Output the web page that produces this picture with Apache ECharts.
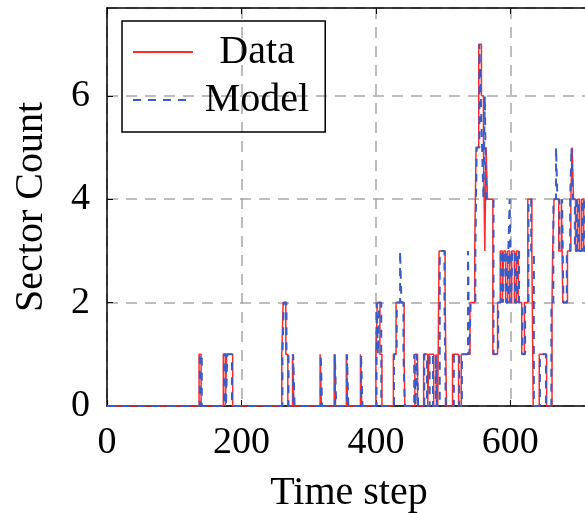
<!DOCTYPE html>
<html lang="en">
<head>
    <meta charset="UTF-8">
    <title>Sector Count</title>
    <script type="text/javascript" src="https://cdn.jsdelivr.net/npm/echarts@6/dist/echarts.min.js"></script>
</head>
<body style="margin:0;">
<div id="myChart" style="width:585px;height:513px;"></div>
<script type="text/javascript">
    // change points: value holds from t[i] until t[i+1]
    var dataT = [0, 137, 140, 173, 176, 178, 187, 260, 262, 266, 269, 276, 278, 317, 319, 338, 340, 356, 358, 377, 379,
        400, 402, 406, 409, 426, 430, 442, 443, 458, 462, 471, 477, 479, 486, 490, 492, 494, 503, 505, 514, 523, 527,
        540, 547, 549, 553, 557, 560, 561, 562, 564, 566, 574, 581, 585, 588, 590, 593, 596, 599, 602, 606, 609, 612,
        617, 621, 626, 632, 634, 643, 654, 662, 663, 665, 672, 676, 678, 685, 690, 692, 694, 697, 700, 703, 706, 709, 712, 720];
    var dataV = [0, 1, 0, 1, 0, 1, 0, 1, 2, 1, 0, 1, 0, 1, 0, 1, 0, 1, 0, 1, 0,
        1, 2, 1, 0, 1, 2, 1, 0, 1, 0, 1, 0, 1, 0, 1, 0, 3, 2, 0, 1, 0, 1,
        2, 3, 5, 7, 6, 5, 4, 3, 5, 4, 1, 2, 3, 2, 3, 2, 3, 2, 3, 2, 3, 2,
        1, 2, 4, 3, 0, 1, 0, 2, 3, 4, 3, 4, 2, 3, 4, 5, 4, 3, 4, 3, 4, 3, 4, 4];

    var modelT = [0, 138, 141, 174, 177, 179, 186, 261, 263, 267, 270, 277, 279, 318, 320, 339, 341, 357, 359, 378, 380,
        401, 403, 405, 408, 427, 431, 436, 438, 441, 443, 457, 459, 461, 463, 472, 476, 480, 485, 489, 491, 495, 502, 504,
        516, 524, 528, 537, 539, 541, 548, 550, 554, 556, 558, 560, 562, 564, 566, 575, 582, 586, 589, 591, 594, 597, 599, 601,
        603, 607, 610, 613, 618, 622, 627, 631, 635, 644, 653, 661, 664, 668, 670, 673, 677, 679, 684, 689, 691, 693, 696, 699, 702, 707, 710, 720];
    var modelV = [0, 1, 0, 1, 0, 1, 0, 1, 2, 1, 0, 1, 0, 1, 0, 1, 0, 1, 0, 1, 0,
        2, 1, 2, 0, 1, 2, 3, 2, 1, 0, 1, 0, 1, 0, 1, 0, 1, 0, 1, 0, 3, 2, 0,
        1, 0, 1, 3, 1, 2, 3, 5, 7, 6, 5, 4, 6, 4, 4, 1, 2, 3, 2, 3, 2, 3, 4, 2,
        3, 2, 3, 2, 1, 2, 4, 3, 0, 1, 0, 2, 4, 5, 4, 3, 4, 2, 3, 4, 5, 4, 3, 4, 3, 4, 3, 4];

    var xTicks = [0, 200, 400, 600];
    var yTicks = [0, 2, 4, 6];

    function pairs(t, v) {
        var out = [];
        for (var i = 0; i < t.length; i++) {
            out.push([t[i], v[i]]);
        }
        return out;
    }

    var myChart = echarts.init(document.getElementById('myChart'));
    var serif = 'Liberation Serif';
    var option = {
        animation: false,
        backgroundColor: '#fff',
        grid: {
            left: 107,
            top: 8,
            width: 484,
            height: 398,
            containLabel: false,
            outerBoundsMode: 'none'
        },
        legend: {
            left: 122,
            top: 21,
            orient: 'vertical',
            borderColor: '#000',
            borderWidth: 1.5,
            borderRadius: 0,
            padding: [11, 16, 12, 10],
            itemWidth: 60,
            itemHeight: 14,
            itemGap: 8,
            itemStyle: {opacity: 0},
            formatter: '{a|{name}}',
            textStyle: {
                fontFamily: serif,
                fontSize: 40,
                color: '#000',
                rich: {a: {width: 118, align: 'center', fontFamily: serif, fontSize: 40}}
            },
            data: ['Data', 'Model']
        },
        xAxis: [
            {
                type: 'value',
                min: 0,
                max: 720,
                interval: 200,
                name: 'Time step',
                nameLocation: 'middle',
                nameGap: 67,
                nameTextStyle: {fontFamily: serif, fontSize: 40, color: '#000'},
                axisLine: {lineStyle: {color: '#000', width: 1.5}},
                axisTick: {inside: true, length: 6, lineStyle: {color: '#000'}},
                axisLabel: {
                    fontFamily: serif, fontSize: 38, color: '#000', margin: 18,
                    showMaxLabel: false,
                    formatter: function (v) { return xTicks.indexOf(v) >= 0 ? v : ''; }
                },
                splitLine: {show: true, lineStyle: {color: '#a8a8a8', type: [11, 8], width: 1.5}}
            },
            {
                type: 'value',
                position: 'top',
                min: 0,
                max: 720,
                interval: 200,
                axisLine: {show: true, lineStyle: {color: '#000', width: 1.5}},
                axisTick: {inside: true, length: 6, lineStyle: {color: '#000'}},
                axisLabel: {show: false},
                splitLine: {show: false}
            }
        ],
        yAxis: {
            type: 'value',
            min: 0,
            max: 7.7,
            interval: 2,
            name: 'Sector Count',
            nameLocation: 'middle',
            nameGap: 56,
            nameTextStyle: {fontFamily: serif, fontSize: 40, color: '#000'},
            axisLine: {show: true, lineStyle: {color: '#000', width: 1.5}},
            axisTick: {show: true, inside: true, length: 6, lineStyle: {color: '#000'}},
            axisLabel: {
                fontFamily: serif, fontSize: 38, color: '#000', margin: 17,
                showMaxLabel: false,
                formatter: function (v) { return yTicks.indexOf(v) >= 0 ? v : ''; }
            },
            splitLine: {show: true, lineStyle: {color: '#a8a8a8', type: [11, 8], width: 1.5}}
        },
        series: [
            {
                name: 'Data',
                type: 'line',
                step: 'end',
                symbol: 'none',
                color: '#ff2a2a',
                lineStyle: {color: '#ff2a2a', width: 1.5},
                data: pairs(dataT, dataV)
            },
            {
                name: 'Model',
                type: 'line',
                step: 'end',
                symbol: 'none',
                color: '#3b5cc4',
                lineStyle: {color: '#3b5cc4', width: 2, type: [8, 7]},
                data: pairs(modelT, modelV)
            }
        ]
    };
    myChart.setOption(option);
</script>
</body>
</html>
